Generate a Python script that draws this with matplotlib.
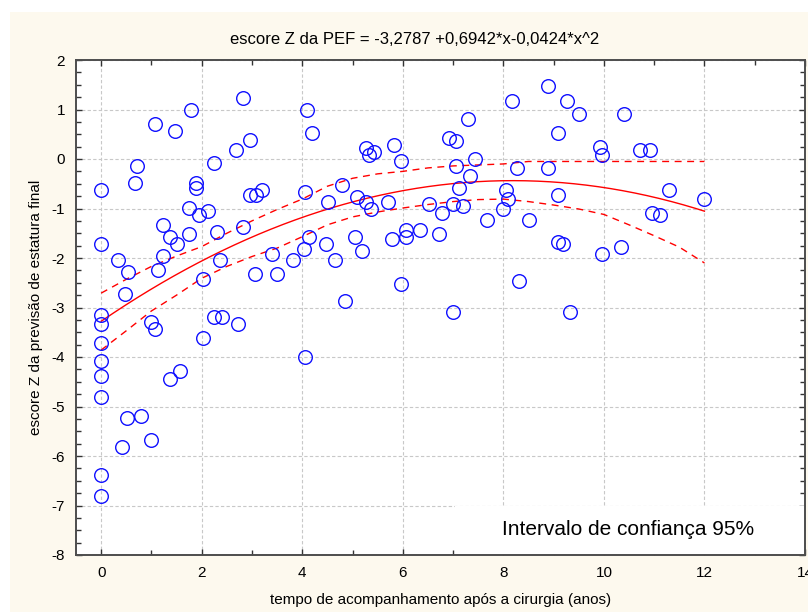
import numpy as np
import matplotlib
matplotlib.use("Agg")
import matplotlib.pyplot as plt
from matplotlib.patches import Rectangle
from matplotlib.ticker import MultipleLocator

plt.rcParams['font.family'] = ['Liberation Sans', 'DejaVu Sans']
plt.rcParams['axes.unicode_minus'] = False

# Regression coefficients (quadratic fit)
b0, b1, b2 = -3.2787, 0.6942, -0.0424

# Follow-up time (years) and final-height Z score per patient
tempo = [
    2.82, 1.79, 1.08, 1.46, 2.96, 2.68, 0.71, 2.25, 0.00, 0.67,
    1.88, 1.88, 2.96, 3.09, 3.20, 1.75, 1.94, 2.12, 1.23, 2.82,
    1.36, 1.75, 1.51, 0.00, 2.31, 0.33, 1.23, 0.53, 1.13, 2.36,
    2.03, 0.47, 3.06, 0.00, 0.00, 0.99, 1.08, 2.25, 2.40, 2.73,
    0.00, 2.03, 0.00, 0.00, 1.36, 1.56, 0.00, 0.52, 0.80, 0.42,
    0.99, 0.00, 0.00, 4.10, 4.19, 5.27, 5.42, 5.32, 5.83, 5.97,
    6.92, 7.05, 4.80, 4.05, 4.52, 5.08, 5.27, 5.36, 5.70, 6.52,
    6.78, 4.14, 4.47, 5.04, 4.04, 5.18, 5.79, 6.07, 6.07, 6.34,
    6.73, 3.39, 3.81, 4.66, 3.49, 5.97, 4.85, 4.05, 7.00, 8.89,
    8.18, 9.26, 7.29, 9.50, 10.39, 9.08, 9.92, 9.97, 7.43, 7.05,
    8.28, 8.89, 7.33, 7.11, 8.05, 9.08, 8.10, 7.00, 7.20, 8.00,
    7.67, 8.51, 9.08, 9.18, 9.97, 10.34, 8.32, 9.32, 10.72, 10.92,
    11.29, 12.00, 10.96, 11.11,
]
escore = [
    1.24, 1.00, 0.71, 0.57, 0.38, 0.19, -0.15, -0.09, -0.62, -0.48,
    -0.48, -0.58, -0.72, -0.72, -0.62, -0.99, -1.14, -1.05, -1.33, -1.37,
    -1.57, -1.52, -1.71, -1.71, -1.48, -2.05, -1.96, -2.28, -2.24, -2.04,
    -2.43, -2.72, -2.33, -3.15, -3.33, -3.29, -3.44, -3.19, -3.19, -3.33,
    -3.71, -3.62, -4.09, -4.39, -4.44, -4.29, -4.81, -5.24, -5.19, -5.81,
    -5.67, -6.38, -6.81, 1.00, 0.52, 0.23, 0.14, 0.09, 0.29, -0.05,
    0.42, 0.36, -0.52, -0.66, -0.86, -0.77, -0.86, -1.01, -0.86, -0.91,
    -1.09, -1.57, -1.71, -1.57, -1.81, -1.86, -1.62, -1.44, -1.57, -1.44,
    -1.52, -1.91, -2.05, -2.05, -2.33, -2.53, -2.86, -4.00, -3.10, 1.47,
    1.18, 1.18, 0.80, 0.90, 0.90, 0.52, 0.24, 0.09, -0.01, -0.15,
    -0.19, -0.19, -0.34, -0.58, -0.62, -0.72, -0.81, -0.91, -0.95, -1.01,
    -1.24, -1.24, -1.67, -1.71, -1.91, -1.77, -2.47, -3.10, 0.19, 0.19,
    -0.62, -0.81, -1.09, -1.14,
]

# 95% confidence band around the fitted curve
ic_x = [0, 0.5, 1, 1.5, 2, 2.5, 3, 3.5, 4, 4.5, 5, 5.5, 6, 6.5, 7, 7.5,
        8, 8.5, 9, 9.5, 10, 10.5, 11, 11.5, 12]
ic_sup = [-2.71, -2.43, -2.17, -1.96, -1.77, -1.50, -1.25, -1.02, -0.81,
          -0.55, -0.39, -0.30, -0.25, -0.18, -0.14, -0.12, -0.10, -0.05,
          -0.05, -0.05, -0.05, -0.05, -0.05, -0.05, -0.05]
ic_inf = [-3.86, -3.47, -3.07, -2.75, -2.41, -2.17, -1.97, -1.80, -1.57,
          -1.33, -1.17, -1.07, -0.99, -0.92, -0.86, -0.82, -0.81, -0.86,
          -0.93, -1.01, -1.12, -1.33, -1.55, -1.78, -2.10]

W, H = 808, 612
fig = plt.figure(figsize=(W / 100, H / 100), dpi=100)
fig.patch.set_facecolor('white')
# cream panel behind the chart
panel = Rectangle((10 / W, 0), 1 - 10 / W, 1 - 12 / H,
                  transform=fig.transFigure, facecolor='#fdf9ee',
                  edgecolor='none', zorder=-5)
fig.add_artist(panel)

ax = fig.add_axes([76 / W, (H - 555) / H, (805 - 76) / W, (555 - 60) / H])
ax.set_zorder(1)
ax.set_facecolor('white')
ax.set_xlim(-0.5, 14)
ax.set_ylim(-8, 2)

ax.xaxis.set_major_locator(MultipleLocator(2))
ax.xaxis.set_minor_locator(MultipleLocator(1))
ax.yaxis.set_major_locator(MultipleLocator(1))
ax.yaxis.set_minor_locator(MultipleLocator(0.25))
ax.tick_params(which='both', direction='in', top=True, right=True,
               color='#333333', labelsize=11, labelcolor='black')
ax.tick_params(which='major', length=4, width=1.0, pad=8)
ax.tick_params(which='minor', length=3.5, width=1.0)
ax.tick_params(axis='x', which='major', labeltop=False)
ax.tick_params(axis='y', which='major', labelright=False)

ax.grid(True, which='major', color='#c8c8c8', linestyle=(0, (3, 2)),
        linewidth=0.8, zorder=0)
ax.set_axisbelow(True)
for sp in ax.spines.values():
    sp.set_color('#4d4d4d')
    sp.set_linewidth(1.4)

# fitted curve
xf = np.linspace(0, 12, 200)
yf = b0 + b1 * xf + b2 * xf ** 2
ax.plot(xf, yf, color='#ff0000', linewidth=1.0, zorder=3)
ax.plot(ic_x, ic_sup, color='#ff0000', linewidth=1.0,
        linestyle=(0, (5, 4)), zorder=3)
ax.plot(ic_x, ic_inf, color='#ff0000', linewidth=1.0,
        linestyle=(0, (5, 4)), zorder=3)

ax.plot(tempo, escore, linestyle='none', marker='o', markersize=9.8,
        markerfacecolor='none', markeredgecolor='#1010ff',
        markeredgewidth=1.0, zorder=4)

# legend note
ax.add_patch(Rectangle((7.03, -8), 14 - 7.03, 0.98, facecolor='white',
                       edgecolor='none', zorder=1.5))
ax.text(7.97, -7.48, 'Intervalo de confiança 95%', fontsize=15,
        va='center', ha='left', color='black', zorder=5)

titulo = ('escore Z da PEF = ' + f'{b0:.4f}' + ' +' + f'{b1:.4f}' + '*x'
          + f'{b2:.4f}' + '*x^2').replace('.', ',')
fig.text(415 / W, 1 - 40 / H, titulo, ha='center', va='center', fontsize=12)

ax.set_xlabel('tempo de acompanhamento após a cirurgia (anos)', fontsize=11,
              labelpad=9)
ax.set_ylabel('escore Z da previsão de estatura final', fontsize=11,
              labelpad=6)

fig.savefig('out.png', dpi=100, facecolor=fig.get_facecolor())
